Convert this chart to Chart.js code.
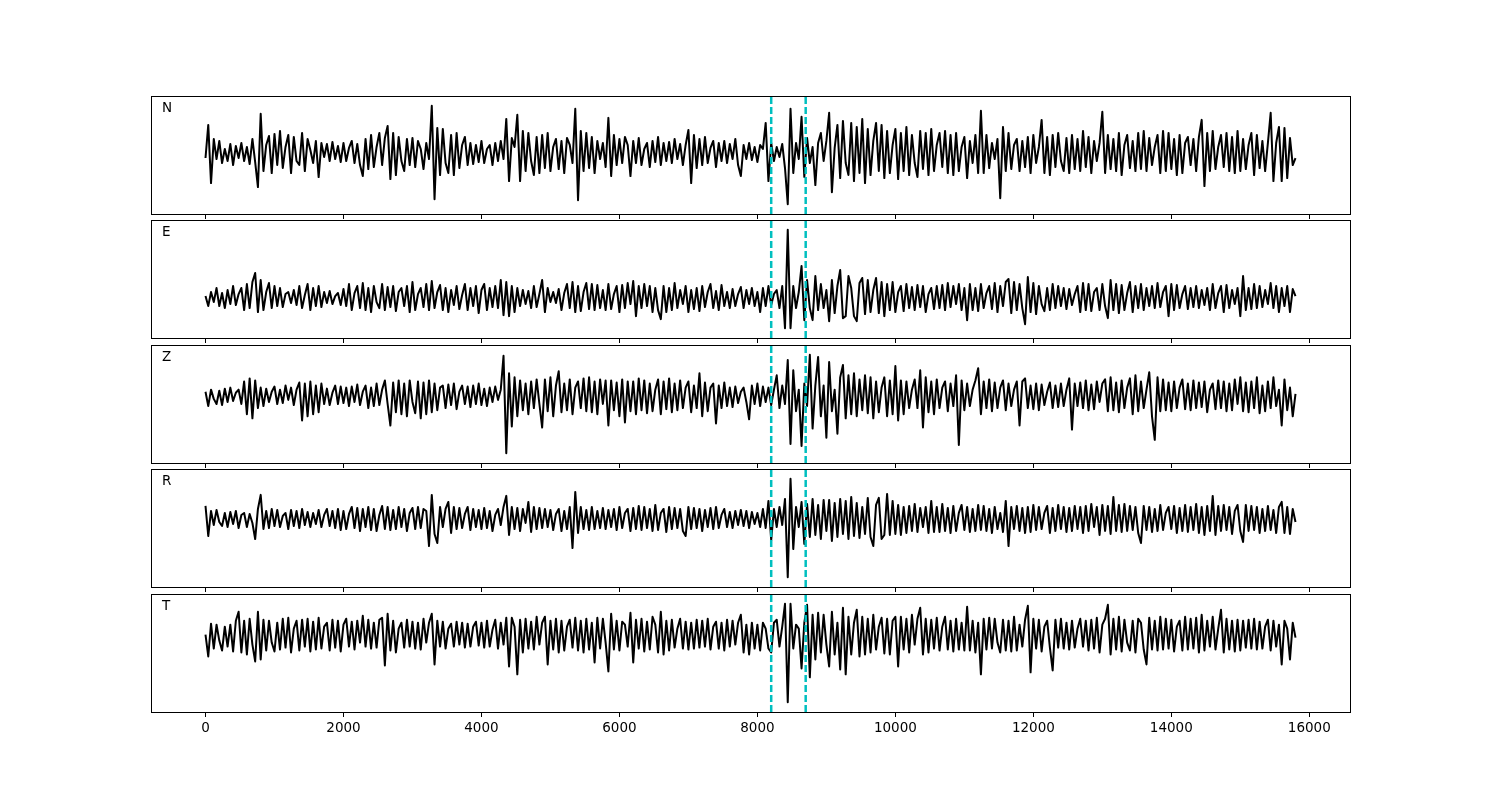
<!DOCTYPE html>
<html>
<head>
<meta charset="utf-8">
<script src="https://cdn.jsdelivr.net/npm/chart.js@4.4.0/dist/chart.umd.min.js"></script>
<style>
  html, body { margin: 0; padding: 0; background: #fff; }
  #wrap { position: relative; width: 1500px; height: 800px; overflow: hidden; }
  #wrap canvas { position: absolute; left: 0; }
</style>
</head>
<body>
<div id="wrap"></div>
<script>
// sample spacing of the traces (one value every dt samples)
const dt = 40;
const channels = ['N', 'E', 'Z', 'R', 'T'];
const pickTimes = [8200, 8700];
const xTicks = [0, 2000, 4000, 6000, 8000, 10000, 12000, 14000, 16000];

const traceN = [
  -5, 28, -30, 14, -6, 12, -10, 4, -8, 9, -12, 7, -5, 10, -8, 6, -11, 14, -9, -34,
  39, -18, 8, 17, -20, 19, -12, 22, -15, 6, 18, -20, 16, -8, -12, 20, -18, 14, 3, -10,
  12, -24, 10, -4, 9, -8, 11, -6, 7, -9, 10, -8, 5, 12, -10, 9, -12, -23, 14, -16,
  18, -14, 6, 20, -12, 15, 27, -26, 20, -22, 16, -8, -18, 14, -12, 15, -14, 12, 4, -16,
  10, -6, 47, -46, 25, -22, 24, -10, -20, 18, -22, 20, -15, 8, 16, -12, 10, -11, 8, -9,
  12, -10, 4, 8, -12, 10, -8, 12, -6, 34, -28, 15, 6, 38, -28, 22, -18, 20, -8, -22,
  16, -20, 18, -15, 20, -18, 6, 14, -16, 12, -20, 15, 8, -10, 44, -47, 22, -18, 20, -15,
  16, -20, 12, -6, 10, -14, 35, -23, 18, -12, 14, -10, 16, 8, -23, 12, -10, 15, -12, 4,
  10, -14, 12, -9, 16, -12, 10, -8, 11, -10, 14, -6, 9, -12, 8, 23, -30, 18, -15, 14,
  -12, 16, -10, 5, 12, -14, 10, -8, 12, -10, 9, -6, 14, -12, -23, 8, -6, 10, -7, 6,
  -9, 8, 4, 30, -28, 10, -8, 6, -4, 9, -15, -51, 44, -20, 10, -6, 36, -24, 15, -10,
  6, -32, 10, 20, -8, 12, 40, -39, 5, 28, -25, 32, -10, -22, 30, -28, 26, -20, 34, -30,
  24, -22, 12, 30, -18, 28, -25, 22, -20, 8, 24, -26, 20, -18, 26, -22, 18, -10, -24, 22,
  -16, 20, -22, 24, -18, 8, 20, -14, 22, -20, 18, -22, 20, -18, 6, 16, -25, 12, -10, 18,
  -20, 42, -20, 18, -15, 10, -6, 14, -45, 26, -18, 20, -16, 8, 14, -18, 12, -14, 16, -20,
  18, -10, 6, 33, -20, 16, -22, 18, -14, 20, -8, -18, 15, -20, 18, -16, 14, -18, 22, -14,
  16, -20, 12, -8, 10, 41, -20, 18, -16, 14, -18, 20, -22, 8, 18, -15, 12, -18, 20, -16,
  22, -18, 15, -12, 6, 18, -20, 22, -18, 20, -16, 14, -22, 18, -20, 10, 16, -12, 14, -18,
  16, 33, -33, 20, -18, 22, -16, 6, 18, -14, 20, -18, 16, -20, 22, -18, 14, -16, 8, 20,
  -22, 18, -15, 12, -18, 10, 40, -28, 10, 26, -28, 25, -25, 15, -12, -5
];

const traceE = [
  2, -8, 6, -4, 10, -8, 5, -10, 8, -6, 12, -7, 4, 10, -12, 14, -10, 16, 25, -14,
  18, -12, 6, 15, -10, 12, -8, 10, -9, 4, 6, -5, 8, -7, 12, -10, 3, 14, -12, 10,
  -8, 12, -9, 6, -5, 7, -6, 2, 5, -7, 9, -8, 14, -12, 5, 12, -10, 15, -12, 10,
  -14, 12, -4, -10, 14, -12, 11, -9, 12, -13, 6, 10, -8, 12, -14, 16, -12, 4, 10, -9,
  14, -12, 17, -10, 6, 13, -12, 10, -14, 8, -7, 12, -11, 3, 14, -12, 10, -8, 12, -15,
  8, 14, -12, 10, -9, 12, -10, 18, -17, 16, -18, 12, -14, 10, -8, 8, -6, 7, -10, 12,
  -9, 4, 18, -14, 10, -4, 6, -5, 9, -12, 5, 14, -10, 16, -14, 12, -13, 6, 15, -11,
  14, -12, 13, -10, 8, -12, 14, -11, 4, 12, -14, 13, -10, 15, -6, 17, -18, 12, -10, 14,
  -8, 12, -14, 10, -12, -21, 12, -14, 10, -12, 15, -10, 8, -6, 12, -14, 8, -11, 10, -13,
  12, -9, 6, 14, -10, 7, -12, 13, -8, 6, -10, 9, -8, 4, 11, -10, 8, -6, 10, -8,
  6, -14, 10, -8, 12, -7, 4, 8, -10, 12, -30, 68, -30, 12, -10, 6, 32, -22, 18, -10,
  -22, 22, -12, 14, -10, 8, -23, 18, -15, 12, 28, -20, -18, 22, 10, -18, -23, 15, 20, -16,
  18, -14, 8, 20, -15, 16, -18, 14, -12, 16, -14, 6, 12, -13, 14, -10, 11, -12, 13, -9,
  12, -14, 4, 10, -11, 12, -10, 13, -12, 15, -9, 12, -6, 14, -12, 10, -22, 14, -12, 10,
  -13, 14, -10, 5, 12, -11, 15, -14, 12, -8, 16, 19, -15, 16, -12, 14, -10, -26, 21, -14,
  15, -16, 12, -6, -13, 10, -12, 14, -10, 12, -8, 10, -11, 9, -7, 4, 12, -14, 15, -12,
  14, -13, 6, 10, -12, 14, -8, -20, 18, -12, 14, -15, 13, -12, 5, 16, -14, 12, -10, 14,
  -12, 10, -8, 12, -10, 15, -9, 6, 12, -18, 14, -12, 13, -10, 4, 12, -11, 10, -9, 12,
  -10, 8, -7, 10, -12, 14, -10, 5, 12, -14, 13, -10, 8, -6, 10, -18, 22, -12, 10, -11,
  14, -10, 12, -9, 8, -6, 15, -10, 12, -14, 10, -8, 12, -14, 9, 2
];

const traceZ = [
  4, -10, 6, -3, -8, 5, -9, 7, -6, 8, -5, 3, 6, -8, 14, -18, 17, -22, 15, -12,
  8, -10, 7, -6, 4, 9, -8, 6, -7, 10, -4, 8, -9, 6, 13, -24, 12, -20, 14, -18,
  10, -16, 12, -8, 7, -9, 3, 10, -8, 9, -7, 8, -10, 9, -6, 11, -9, 4, 10, -12,
  8, -10, 12, -9, 6, 15, -8, -29, 13, -16, 15, -18, 12, -20, 15, -6, -17, 14, -22, 13,
  -18, 15, -16, 12, -14, 8, 10, -12, 11, -9, 12, -13, 4, 10, -8, 9, -11, 10, -8, 12,
  -9, 7, -10, 8, -6, 9, -4, 6, 39, -56, 22, -30, 18, -20, 15, -14, 12, -18, 14, -12,
  16, -8, -31, 16, -15, 18, -20, 10, 24, -16, 12, -14, 16, -18, 8, 14, -12, 17, -15, 18,
  -16, 14, -18, 16, -8, 15, -29, 15, -14, 13, -20, 16, -26, 14, -15, 14, -18, 17, -14, 15,
  -17, 12, -15, 6, 16, -18, 14, -13, 17, -16, 12, -14, 15, -12, 8, 14, -16, 10, -12, 22,
  -20, 13, -15, 8, 12, -27, 10, -12, 13, -10, 8, -11, 9, -7, 4, 8, -6, -23, 10, -8,
  12, -10, 9, -6, 8, -9, 6, 20, -12, 10, -8, 35, -47, 25, -15, 6, -49, 12, -10, 40,
  -32, 10, 38, -20, 10, -41, 33, -15, 6, -37, 18, 30, -22, 20, -18, 22, -20, 16, -14, 20,
  -17, 18, -22, 14, -16, 8, 18, -20, 15, -18, 29, -24, 15, -18, 14, -12, 6, 16, -12, 25,
  -31, 18, -16, 14, -18, 16, -12, 8, 14, -15, 12, -10, 20, -48, 15, -14, 12, -10, 6, 15,
  27, -18, 14, -12, 16, -15, 13, -12, 8, 15, -14, 12, -10, 6, 14, -29, 14, 17, -12, 10,
  -13, 12, -14, 11, -9, 4, 13, -12, 10, -11, 12, -10, 6, 17, -33, 12, -10, 13, -12, 15,
  -14, 11, -13, 14, -6, 12, 16, -15, 18, -14, 13, -16, 15, -12, 8, 17, -18, 20, -15, 14,
  -12, 6, 23, -20, -43, 18, -15, 16, -14, 13, -15, 14, -12, 8, 16, -13, 12, -14, 15, -12,
  13, -11, 14, -16, 6, 12, -13, 15, -12, 14, -15, 12, -14, 16, -8, 18, -15, 13, -16, 14,
  -12, 18, -17, 10, -15, 14, -12, 18, -10, 6, -29, 16, -14, 8, -20, 2
];

const traceR = [
  13, -17, 8, -6, 9, -3, -7, 6, -8, 7, -5, 8, -9, 4, 6, -8, 5, -4, -20, 10,
  24, -10, 8, -9, 10, -7, 9, -8, 3, 6, -10, 9, -7, 8, -9, 10, -6, 7, -8, 6,
  -5, 9, -8, 4, 10, -7, 8, -9, 10, -11, 8, -10, 5, 12, -9, 11, -12, 10, -8, 12,
  -11, 10, -12, 4, 13, -10, 12, -11, 9, -10, 12, -8, 10, -12, 6, 11, -10, 12, -9, 10,
  8, -27, 24, -15, -24, 12, -8, 10, 17, -14, 12, -10, 11, -9, 5, 12, -11, 10, -8, 9,
  -10, 11, -9, 8, -12, 4, 10, -6, 12, 23, -16, 12, -10, 11, -12, 10, -4, 17, -13, 12,
  -10, 11, -9, 10, -8, 9, -11, 5, 10, -12, 8, -10, 12, -29, 27, -14, 12, -10, 9, -11,
  12, -10, 8, -9, 11, -10, 9, -8, 10, -11, 12, -9, 6, 10, -12, 11, -10, 13, -11, 12,
  -9, 10, -12, 14, -11, 6, 10, -13, 12, -10, 11, -9, 10, -12, -17, 12, -10, 11, -9, 10,
  -12, 9, -8, 11, -10, 12, -9, 4, 10, -8, 7, -9, 8, -6, 9, -7, 8, -9, 7, -5,
  6, -8, 10, -9, 18, -21, 10, -8, 12, -6, 20, -58, 40, -30, 12, -8, 17, -25, 15, -18,
  20, -16, 14, -20, 19, -12, 19, -22, 16, -18, 20, -15, 18, -20, 22, -17, 16, -19, 12, -15,
  21, -18, -27, 14, 21, -20, -16, 25, -16, 18, -15, 14, -16, 12, -14, 13, -12, 15, -13, 11,
  -8, 12, -14, 18, -13, 12, -13, 15, -12, 11, -14, 13, -12, 6, 14, -11, 12, -13, 10, -12,
  14, -11, 13, -12, 10, -14, 12, -10, 6, -13, 18, -27, 12, -10, 13, -12, 11, -14, 12, -13,
  14, -11, 12, -10, 6, 13, -14, 11, -12, 14, -10, 12, -13, 11, -12, 13, -10, 12, -14, 13,
  -12, 15, -8, 12, -16, 14, -12, 13, -15, 22, -12, 14, -13, 15, -12, 13, -11, 12, -14, -24,
  13, -11, 12, -13, 10, -12, 14, -11, 6, 12, -10, 13, -14, 11, -12, 14, -13, 12, -11, 15,
  -14, 12, -16, 13, -12, 23, -16, 13, -12, 14, -11, 12, -15, 8, 14, -12, -23, 14, -12, 13,
  -11, 12, -14, 10, -12, 13, -11, 9, -14, 12, 17, -14, 12, -15, 10, -3
];

const traceT = [
  0, -22, 11, -14, 10, -6, -16, 8, -12, 10, -17, 14, 23, -18, 14, -20, 16, -10, -27, 23,
  -25, 15, -16, 14, -8, -17, 12, -15, 16, -13, 17, -18, 6, 14, -16, 15, -12, 16, -17, 13,
  -15, 17, -14, 8, 12, -16, 15, -13, 14, -17, 10, 16, -12, 13, -15, 14, -8, 19, -12, 15,
  -14, 12, -13, 15, 17, -31, 21, -16, 14, -18, 6, 12, -13, 15, -12, 13, -14, 12, -15, 16,
  -8, 12, 21, -30, 14, -12, 13, -14, 6, 11, -12, 13, -10, 12, -13, 11, -12, 8, 13, -11,
  12, -13, 14, -12, 5, 15, -14, 12, -10, 17, -32, 17, 8, -40, 15, -18, 16, -14, 13, -15,
  18, -10, 12, 18, -30, 14, -15, 16, -18, 14, -16, 8, 15, -13, 17, -16, 14, -18, 16, -15,
  12, -28, 17, -14, 16, -8, -37, 21, -15, 14, -16, 13, 10, -12, 22, -28, 15, -14, 16, -17,
  13, -15, 18, 10, -18, 23, -20, 14, -16, 15, -13, 6, 16, -14, 13, -15, 12, -14, 15, -13,
  14, -12, 16, -15, 8, 13, -14, 12, -16, 15, -12, 14, -10, 12, 20, -18, 10, -20, 12, -14,
  10, -16, 12, 6, -14, -18, 12, 15, -12, 8, 31, -68, 31, -14, 10, 6, -34, 12, 30, -43,
  20, -25, 22, -18, 20, -10, -32, 23, -20, 12, -35, 27, -40, 18, -20, 12, 25, -22, 18, -20,
  16, -18, 20, -15, 8, 17, -19, 16, -20, 14, 18, -32, 18, -15, 16, -18, 20, -10, 16, 27,
  -20, 16, -18, 15, -14, 17, -16, 8, 18, -15, 14, -17, 16, -15, 12, -16, 28, -16, 14, -18,
  12, -40, 16, -15, 17, -14, 16, -8, -18, 15, -16, 14, -17, 18, -16, 10, -12, 15, 29, -38,
  16, -14, 15, -17, 8, 14, -13, -36, 15, -13, 16, -14, 12, -15, 14, -13, 6, 16, -12, 14,
  -16, 15, -14, 17, -18, 10, 16, 30, -20, 16, -15, 18, -17, 15, -8, -16, 14, -18, 16, 12,
  -15, -30, 17, -15, 14, -16, 18, -15, 16, -14, 15, -17, 8, 14, -16, 18, -15, 16, -14, 17,
  -18, 20, -16, 14, -12, 18, -15, 6, 25, -18, 16, -15, 14, -17, 15, -16, 14, -13, 15, -14,
  16, -15, 13, -14, 8, 15, -16, 14, -12, 10, -30, 14, 6, -25, 12, -3
];

const traces = [traceN, traceE, traceZ, traceR, traceT];

// page layout of the five stacked panels
const panelTop = [96, 220, 345, 469, 594];
const panelH = 118;
const padTop = 10;
const axisH = 42;

// frame round each panel plus the channel letter in the corner
const panelFrame = {
    id: 'panelFrame',
    afterDraw(chart, args, opts) {
        const ctx = chart.ctx;
        const a = chart.chartArea;
        ctx.save();
        ctx.strokeStyle = '#000';
        ctx.lineWidth = 1;
        ctx.strokeRect(a.left + 0.5, a.top + 0.5, a.right - a.left, a.bottom - a.top);
        ctx.fillStyle = '#000';
        ctx.font = '13.5px "DejaVu Sans"';
        ctx.textBaseline = 'alphabetic';
        ctx.fillText(opts.label, a.left + 11, a.top + 16);
        ctx.restore();
    }
};

const wrap = document.getElementById('wrap');

channels.forEach(function (name, k) {
    const values = traces[k];
    const lo = Math.min(...values);
    const hi = Math.max(...values);
    const pad = (hi - lo) * 0.1;
    const yMin = lo - pad;
    const yMax = hi + pad;

    const canvas = document.createElement('canvas');
    canvas.width = 1500;
    canvas.height = padTop + panelH + axisH;
    canvas.style.top = (panelTop[k] - padTop) + 'px';
    wrap.appendChild(canvas);

    const picks = pickTimes.map(t => ({
        data: [{ x: t, y: yMin }, { x: t, y: yMax }],
        borderColor: '#00bfbf',
        borderWidth: 2.5,
        borderDash: [7, 3],
        pointRadius: 0,
        fill: false
    }));

    new Chart(canvas.getContext('2d'), {
        type: 'line',
        data: {
            datasets: picks.concat([{
                data: values.map((v, i) => ({ x: i * dt, y: v })),
                borderColor: '#000',
                borderWidth: 2,
                borderJoinStyle: 'round',
                pointRadius: 0,
                tension: 0,
                fill: false
            }])
        },
        options: {
            responsive: false,
            animation: false,
            events: [],
            layout: { padding: { left: 151, right: 150, top: padTop, bottom: 0 } },
            scales: {
                x: {
                    type: 'linear',
                    min: -790,
                    max: 16590,
                    afterBuildTicks: scale => { scale.ticks = xTicks.map(v => ({ value: v })); },
                    afterFit: scale => { scale.height = axisH; },
                    grid: {
                        drawOnChartArea: false,
                        drawTicks: true,
                        tickLength: 5,
                        tickColor: '#000',
                        tickWidth: 1
                    },
                    border: { display: false },
                    ticks: {
                        display: k === channels.length - 1,
                        padding: 3,
                        maxRotation: 0,
                        color: '#000',
                        font: { family: 'DejaVu Sans', size: 13.5 },
                        callback: v => String(v)
                    }
                },
                y: {
                    display: false,
                    min: yMin,
                    max: yMax
                }
            },
            plugins: {
                legend: { display: false },
                tooltip: { enabled: false },
                panelFrame: { label: name }
            }
        },
        plugins: [panelFrame]
    });
});
</script>
</body>
</html>
